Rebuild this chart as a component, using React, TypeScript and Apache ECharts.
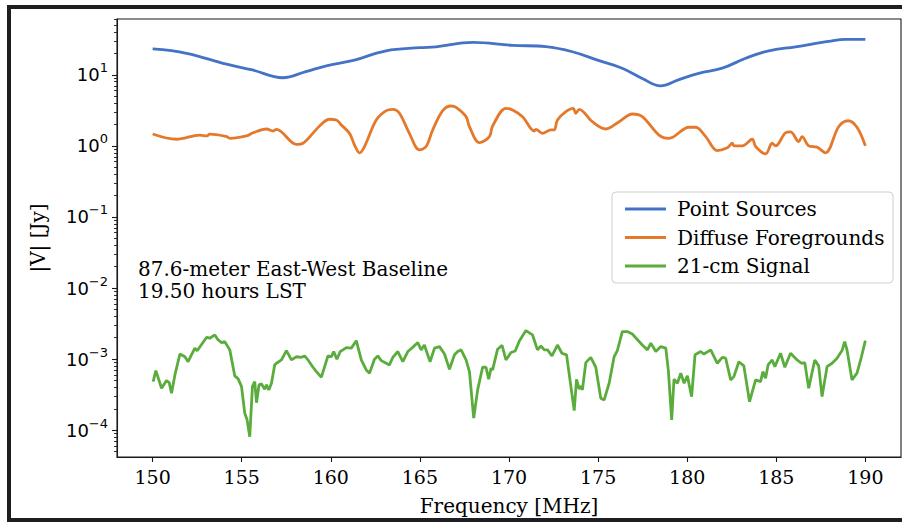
import React, { useEffect, useRef } from "react";
import * as echarts from "echarts";

// ---- Data ----
const xTickValues = [150, 155, 160, 165, 170, 175, 180, 185, 190];
const yTickValues = [1e-4, 1e-3, 1e-2, 1e-1, 1, 10];
const minorMantissas = [2, 3, 4, 5, 6, 7, 8, 9];
const minorDecades = [1e-5, 1e-4, 1e-3, 1e-2, 1e-1, 1, 10];

const pointFreq = [150.0, 151.9, 154.15, 155.6, 157.3, 158.6, 159.75, 161.2, 163.1, 165.0, 165.9, 167.96, 170.2, 172.07, 173.56, 175.06, 176.35, 177.48, 178.5, 179.5, 180.65, 181.97, 183.28, 184.58, 186.08, 187.94, 188.88, 190.0];
const pointVals = [23.1, 20.1, 14.1, 11.7, 9.1, 11.1, 13.4, 15.8, 21.8, 24.1, 24.8, 28.6, 26.0, 24.9, 21.1, 15.8, 12.4, 8.9, 7.0, 8.5, 10.5, 12.4, 17.1, 21.8, 24.8, 29.6, 31.6, 31.6];

const diffuseFreq = [150.0, 151.34, 152.65, 153.03, 153.21, 154.15, 154.33, 155.27, 155.64, 156.39, 156.76, 156.95, 158.07, 158.44, 159.37, 159.93, 160.31, 160.59, 161.05, 161.33, 161.61, 161.89, 162.55, 163.11, 163.48, 163.85, 164.41, 164.97, 165.35, 165.72, 166.28, 166.75, 167.03, 167.59, 167.78, 168.34, 168.9, 169.08, 169.83, 170.2, 170.76, 171.42, 171.51, 171.88, 172.35, 172.54, 172.72, 173.19, 173.6, 173.75, 173.94, 174.68, 175.43, 176.18, 176.92, 177.48, 178.42, 178.98, 180.1, 180.48, 181.04, 181.69, 182.25, 182.53, 182.62, 183.09, 183.65, 183.84, 184.4, 184.77, 184.96, 185.52, 185.8, 186.26, 186.45, 186.82, 187.29, 187.76, 188.5, 189.03, 189.53, 190.0];
const diffuseVals = [1.47, 1.24, 1.42, 1.38, 1.46, 1.35, 1.28, 1.38, 1.53, 1.73, 1.62, 1.71, 1.05, 1.09, 1.91, 2.37, 2.31, 1.97, 1.5, 1.03, 0.8, 0.98, 2.31, 3.13, 3.27, 2.88, 1.5, 0.88, 0.98, 1.68, 3.13, 3.64, 3.49, 2.58, 1.86, 1.11, 1.35, 1.91, 3.38, 3.2, 2.58, 1.62, 1.71, 1.5, 1.68, 1.68, 2.31, 3.03, 3.38, 2.88, 3.27, 2.19, 1.73, 2.19, 2.81, 2.58, 1.42, 1.28, 1.83, 1.83, 1.35, 0.86, 0.94, 1.09, 1.0, 1.0, 1.24, 0.98, 0.77, 1.09, 1.0, 1.53, 1.58, 1.15, 1.35, 1.0, 0.96, 0.8, 1.86, 2.26, 1.83, 1.0];

const signalFreq = [150.03, 150.18, 150.5, 150.78, 150.93, 151.06, 151.25, 151.53, 151.81, 151.99, 152.37, 152.5, 153.03, 153.21, 153.49, 153.68, 153.87, 154.05, 154.33, 154.61, 154.8, 154.99, 155.17, 155.3, 155.45, 155.6, 155.73, 155.83, 155.97, 156.11, 156.29, 156.39, 156.52, 156.67, 156.85, 156.95, 157.23, 157.51, 157.79, 158.07, 158.35, 158.53, 158.72, 159.0, 159.19, 159.47, 159.84, 160.03, 160.16, 160.34, 160.53, 160.68, 160.87, 161.15, 161.43, 161.71, 161.99, 162.17, 162.45, 162.64, 162.83, 163.11, 163.29, 163.48, 163.76, 164.04, 164.32, 164.6, 164.88, 165.07, 165.25, 165.57, 165.82, 166.1, 166.38, 166.66, 166.94, 167.12, 167.31, 167.59, 167.78, 168.02, 168.24, 168.52, 168.71, 168.86, 168.99, 169.08, 169.36, 169.61, 169.83, 170.11, 170.35, 170.58, 170.95, 171.32, 171.6, 171.79, 171.98, 172.16, 172.41, 172.72, 172.97, 173.23, 173.66, 173.79, 173.94, 174.03, 174.12, 174.31, 174.59, 174.87, 175.15, 175.34, 175.62, 175.9, 176.08, 176.36, 176.64, 176.92, 177.48, 177.77, 177.96, 178.24, 178.52, 178.8, 178.94, 179.13, 179.26, 179.45, 179.64, 179.83, 180.01, 180.25, 180.44, 180.76, 180.94, 181.32, 181.69, 181.97, 182.16, 182.44, 182.62, 182.9, 183.18, 183.5, 183.84, 184.12, 184.25, 184.4, 184.54, 184.77, 184.92, 185.24, 185.48, 185.8, 186.17, 186.41, 186.6, 186.82, 187.16, 187.38, 187.57, 187.85, 188.13, 188.41, 188.69, 188.84, 188.97, 189.25, 189.53, 189.78, 190.0];
const signalVals = [4.83e-4, 6.89e-4, 3.9e-4, 4.99e-4, 4.68e-4, 3.32e-4, 6.0e-4, 1.18e-3, 1.08e-3, 9.2e-4, 1.43e-3, 1.31e-3, 2.03e-3, 1.97e-3, 2.19e-3, 1.86e-3, 1.71e-3, 1.76e-3, 1.35e-3, 5.81e-4, 5.27e-4, 4.1e-4, 1.73e-4, 1.4e-4, 8.1e-5, 4.1e-4, 4.83e-4, 2.44e-4, 4.34e-4, 4.48e-4, 3.78e-4, 4.34e-4, 3.69e-4, 4.58e-4, 8.3e-4, 8.75e-4, 9.75e-4, 1.32e-3, 9.75e-4, 1.08e-3, 1.06e-3, 1.11e-3, 9.75e-4, 7.69e-4, 6.67e-4, 5.57e-4, 1.11e-3, 1.08e-3, 1.28e-3, 9.98e-4, 1.28e-3, 1.35e-3, 1.45e-3, 1.43e-3, 1.82e-3, 9.75e-4, 7.05e-4, 6.34e-4, 9.98e-4, 1.11e-3, 9.53e-4, 8.75e-4, 8.3e-4, 1.06e-3, 1.28e-3, 9.2e-4, 1.28e-3, 1.47e-3, 1.71e-3, 1.35e-3, 1.58e-3, 9.2e-4, 1.43e-3, 1.5e-3, 1.18e-3, 7.21e-4, 1.15e-3, 1.28e-3, 1.35e-3, 9.75e-4, 6.67e-4, 1.48e-4, 3.69e-4, 7.69e-4, 7.69e-4, 5.21e-4, 7.45e-4, 7.05e-4, 1.38e-3, 1.56e-3, 9.75e-4, 1.24e-3, 1.3e-3, 1.8e-3, 2.52e-3, 2.19e-3, 1.35e-3, 1.53e-3, 1.35e-3, 1.35e-3, 1.11e-3, 1.58e-3, 1.21e-3, 1.15e-3, 1.89e-4, 5.21e-4, 3.78e-4, 4.2e-4, 3.69e-4, 8.93e-4, 1.06e-3, 7.69e-4, 2.82e-4, 2.67e-4, 4.58e-4, 1.08e-3, 1.32e-3, 2.44e-3, 2.44e-3, 2.26e-3, 1.58e-3, 1.35e-3, 1.68e-3, 1.28e-3, 1.5e-3, 1.43e-3, 7.05e-4, 1.4e-4, 5.21e-4, 4.58e-4, 6.34e-4, 4.58e-4, 5.81e-4, 2.97e-4, 1.15e-3, 1.28e-3, 1.18e-3, 1.35e-3, 8.75e-4, 1.06e-3, 1.03e-3, 5.1e-4, 5.68e-4, 9.2e-4, 8.04e-4, 2.52e-4, 5.1e-4, 4.83e-4, 6.67e-4, 5.4e-4, 8.3e-4, 9.75e-4, 7.85e-4, 1.21e-3, 7.69e-4, 1.21e-3, 9.75e-4, 8.75e-4, 8.93e-4, 3.9e-4, 9.75e-4, 8.04e-4, 2.97e-4, 7.85e-4, 8.75e-4, 1.03e-3, 1.32e-3, 1.76e-3, 1.35e-3, 5.1e-4, 6.34e-4, 1.08e-3, 1.82e-3];

const seriesNames = ["Point Sources", "Diffuse Foregrounds", "21-cm Signal"];
const seriesColors = ["#4472c4", "#e5792b", "#5aad3c"];
const annotationLines = ["87.6-meter East-West Baseline", "19.50 hours LST"];

const SERIF = "'DejaVu Serif', serif";
const SANS = "'DejaVu Sans', sans-serif";
const AXIS_COLOR = "#1a1a1a";
const TEXT_SIZE = 20;

function pairs(xs: number[], ys: number[]) {
  return xs.map((x, i) => [x, ys[i]]);
}

function superLabel(v: number) {
  const e = Math.round(Math.log10(v));
  const s = e < 0 ? "\u2212" + String(-e) : String(e);
  return "10{sup|" + s + "}";
}

export default function App() {
  const ref = useRef<HTMLDivElement>(null);

  useEffect(() => {
    if (!ref.current) return;
    const chart = echarts.init(ref.current, undefined, { renderer: "svg" });

    const minorValues: number[] = [];
    minorDecades.forEach((d) => minorMantissas.forEach((m) => minorValues.push(m * d)));

    const yMin = 4.2e-5;
    const yMax = 61;

    const option: any = {
      animation: false,
      grid: {
        left: 117,
        top: 19,
        width: 784,
        height: 438,
        show: true,
        borderColor: AXIS_COLOR,
        borderWidth: 1.1,
        backgroundColor: "transparent",
      },
      xAxis: {
        type: "value",
        min: 148,
        max: 192,
        name: "Frequency [MHz]",
        nameLocation: "middle",
        nameGap: 39,
        nameTextStyle: { fontFamily: SERIF, fontSize: TEXT_SIZE, color: "#000" },
        axisLine: { show: true, onZero: false, lineStyle: { color: AXIS_COLOR, width: 1.1 } },
        axisTick: { show: true, length: 5, customValues: xTickValues, lineStyle: { color: AXIS_COLOR, width: 1.1 } },
        axisLabel: { customValues: xTickValues, margin: 10, fontFamily: SERIF, fontSize: 19, color: "#000" },
        splitLine: { show: false },
      },
      yAxis: [
        {
          type: "log",
          logBase: 10,
          min: yMin,
          max: yMax,
          position: "left",
          name: "|V| [Jy]",
          nameLocation: "middle",
          nameGap: 69,
          nameRotate: 90,
          nameTextStyle: { fontFamily: SERIF, fontSize: TEXT_SIZE, color: "#000" },
          axisLine: { show: true, lineStyle: { color: AXIS_COLOR, width: 1.1 } },
          axisTick: { show: true, length: 5, customValues: yTickValues, lineStyle: { color: AXIS_COLOR, width: 1.1 } },
          axisLabel: {
            customValues: yTickValues,
            margin: 9,
            fontFamily: SANS,
            fontSize: 18,
            lineHeight: 27,
            color: "#000",
            formatter: (v: number) => superLabel(v),
            rich: {
              sup: { fontFamily: SANS, fontSize: 13, lineHeight: 13, verticalAlign: "top", color: "#000" },
            },
          },
          splitLine: { show: false },
        },
        {
          type: "log",
          logBase: 10,
          min: yMin,
          max: yMax,
          position: "left",
          offset: 0,
          axisLine: { show: false },
          axisLabel: { show: false },
          axisTick: { show: true, length: 3, customValues: minorValues, lineStyle: { color: AXIS_COLOR, width: 0.9 } },
          splitLine: { show: false },
        },
      ],
      legend: {
        orient: "vertical",
        left: 620,
        top: 192.5,
        icon: "rect",
        itemWidth: 41,
        itemHeight: 3,
        itemGap: 5.5,
        selectedMode: false,
        z: 10,
        data: seriesNames,
        textStyle: { fontFamily: SERIF, fontSize: TEXT_SIZE, lineHeight: 23, color: "#000", padding: [0, 0, 0, 6] },
      },
      graphic: [
        {
          type: "rect",
          z: 5,
          shape: { x: 612, y: 192, width: 281, height: 91, r: 4 },
          style: { fill: "rgba(255,255,255,0.8)", stroke: "#cfcfcf", lineWidth: 1 },
        },
        {
          type: "text",
          x: 138,
          y: 269,
          z: 5,
          style: { text: annotationLines[0], fontFamily: SERIF, fontSize: TEXT_SIZE, fill: "#000", verticalAlign: "middle" },
        },
        {
          type: "text",
          x: 138,
          y: 291,
          z: 5,
          style: { text: annotationLines[1], fontFamily: SERIF, fontSize: TEXT_SIZE, fill: "#000", verticalAlign: "middle" },
        },
      ],
      series: [
        {
          name: seriesNames[0],
          type: "line",
          yAxisIndex: 0,
          data: pairs(pointFreq, pointVals),
          symbol: "none",
          smooth: 0.4,
          lineStyle: { color: seriesColors[0], width: 2.8 },
          itemStyle: { color: seriesColors[0] },
        },
        {
          name: seriesNames[1],
          type: "line",
          yAxisIndex: 0,
          data: pairs(diffuseFreq, diffuseVals),
          symbol: "none",
          smooth: 0.35,
          lineStyle: { color: seriesColors[1], width: 2.8 },
          itemStyle: { color: seriesColors[1] },
        },
        {
          name: seriesNames[2],
          type: "line",
          yAxisIndex: 0,
          data: pairs(signalFreq, signalVals),
          symbol: "none",
          lineStyle: { color: seriesColors[2], width: 2.8 },
          itemStyle: { color: seriesColors[2] },
        },
      ],
    };

    chart.setOption(option);
    return () => chart.dispose();
  }, []);

  return (
    <div style={{ position: "fixed", left: 0, top: 0, width: 902, height: 523, background: "#fff", overflow: "hidden" }}>
      <div
        style={{
          position: "absolute",
          left: 7,
          top: 5,
          width: 910,
          height: 517,
          border: "4.5px solid #1d1f23",
          boxSizing: "border-box",
        }}
      />
      <div ref={ref} style={{ position: "absolute", left: 0, top: 0, width: 902, height: 523 }} />
    </div>
  );
}
